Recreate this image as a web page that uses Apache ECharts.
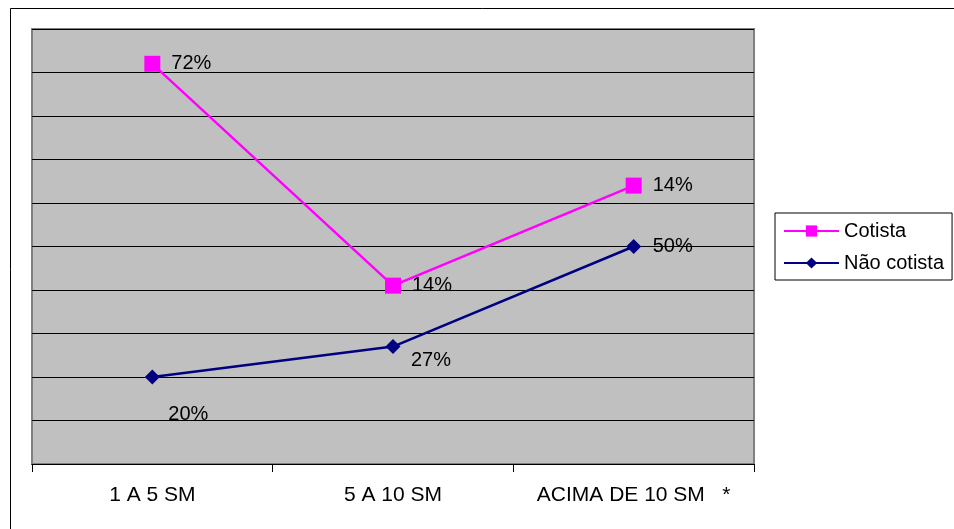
<!DOCTYPE html>
<html>
<head>
<meta charset="utf-8">
<script src="https://cdn.jsdelivr.net/npm/echarts@6/dist/echarts.min.js"></script>
<style>
  html, body { margin: 0; padding: 0; background: #fff; }
  #chart { width: 954px; height: 529px; }
</style>
</head>
<body>
<div id="chart"></div>
<script>
// categorie e valori (stacked: Cotista sta sopra Não cotista)
const categories = ['1 A 5 SM', '5 A 10 SM', 'ACIMA DE 10 SM   *'];
const naoCotista = [20, 27, 50];
const cotista = [72, 14, 14];

const font = 'Arial, "Liberation Sans", sans-serif';

// posizione etichette come nell'originale
const naoLabelOffsets = [[36, 37], [38, 14], [39, 0]];

const chart = echarts.init(document.getElementById('chart'));
const option = {
  animation: false,
  backgroundColor: '#fff',
  graphic: [{
    type: 'rect',
    shape: { x: 10.5, y: 8.5, width: 1000, height: 600 },
    style: { fill: 'none', stroke: '#000', lineWidth: 1 },
    silent: true
  }],
  grid: {
    left: 32, top: 29, right: 200, bottom: 65,
    show: true,
    backgroundColor: '#C0C0C0',
    borderColor: '#808080',
    borderWidth: 2
  },
  legend: {
    orient: 'vertical',
    left: 775, top: 213,
    data: ['Cotista', 'Não cotista'],
    borderColor: '#000',
    borderWidth: 1,
    padding: [8, 8, 7, 8],
    itemGap: 12,
    itemWidth: 55,
    itemHeight: 14,
    textStyle: { fontFamily: font, fontSize: 20, color: '#000' }
  },
  xAxis: {
    type: 'category',
    data: categories,
    boundaryGap: true,
    axisLine: { lineStyle: { color: '#000', width: 1 } },
    axisTick: { show: true, interval: 0, length: 8, lineStyle: { color: '#000' } },
    axisLabel: { interval: 0, hideOverlap: false, fontFamily: font, fontSize: 21, color: '#000', margin: 21 },
    splitLine: { show: false }
  },
  yAxis: {
    type: 'value',
    min: 0, max: 100, interval: 10,
    axisLine: { show: false },
    axisTick: { show: false },
    axisLabel: { show: false },
    splitLine: { show: true, lineStyle: { color: '#000', width: 1 } }
  },
  series: [
    {
      name: 'Não cotista',
      type: 'line',
      stack: 'total',
      data: naoCotista.map((v, i) => ({
        value: v,
        label: { offset: naoLabelOffsets[i] }
      })),
      symbol: 'diamond',
      symbolSize: 15,
      lineStyle: { color: '#000080', width: 2.5 },
      itemStyle: { color: '#000080' },
      label: {
        show: true, position: 'inside',
        formatter: p => p.value + '%',
        fontFamily: font, fontSize: 20, color: '#000'
      }
    },
    {
      name: 'Cotista',
      type: 'line',
      stack: 'total',
      data: cotista,
      symbol: 'rect',
      symbolSize: 16,
      lineStyle: { color: '#FF00FF', width: 2.5 },
      itemStyle: { color: '#FF00FF' },
      label: {
        show: true, position: 'inside', offset: [39, 0],
        formatter: p => p.value + '%',
        fontFamily: font, fontSize: 20, color: '#000'
      }
    }
  ]
};
chart.setOption(option);
</script>
</body>
</html>
